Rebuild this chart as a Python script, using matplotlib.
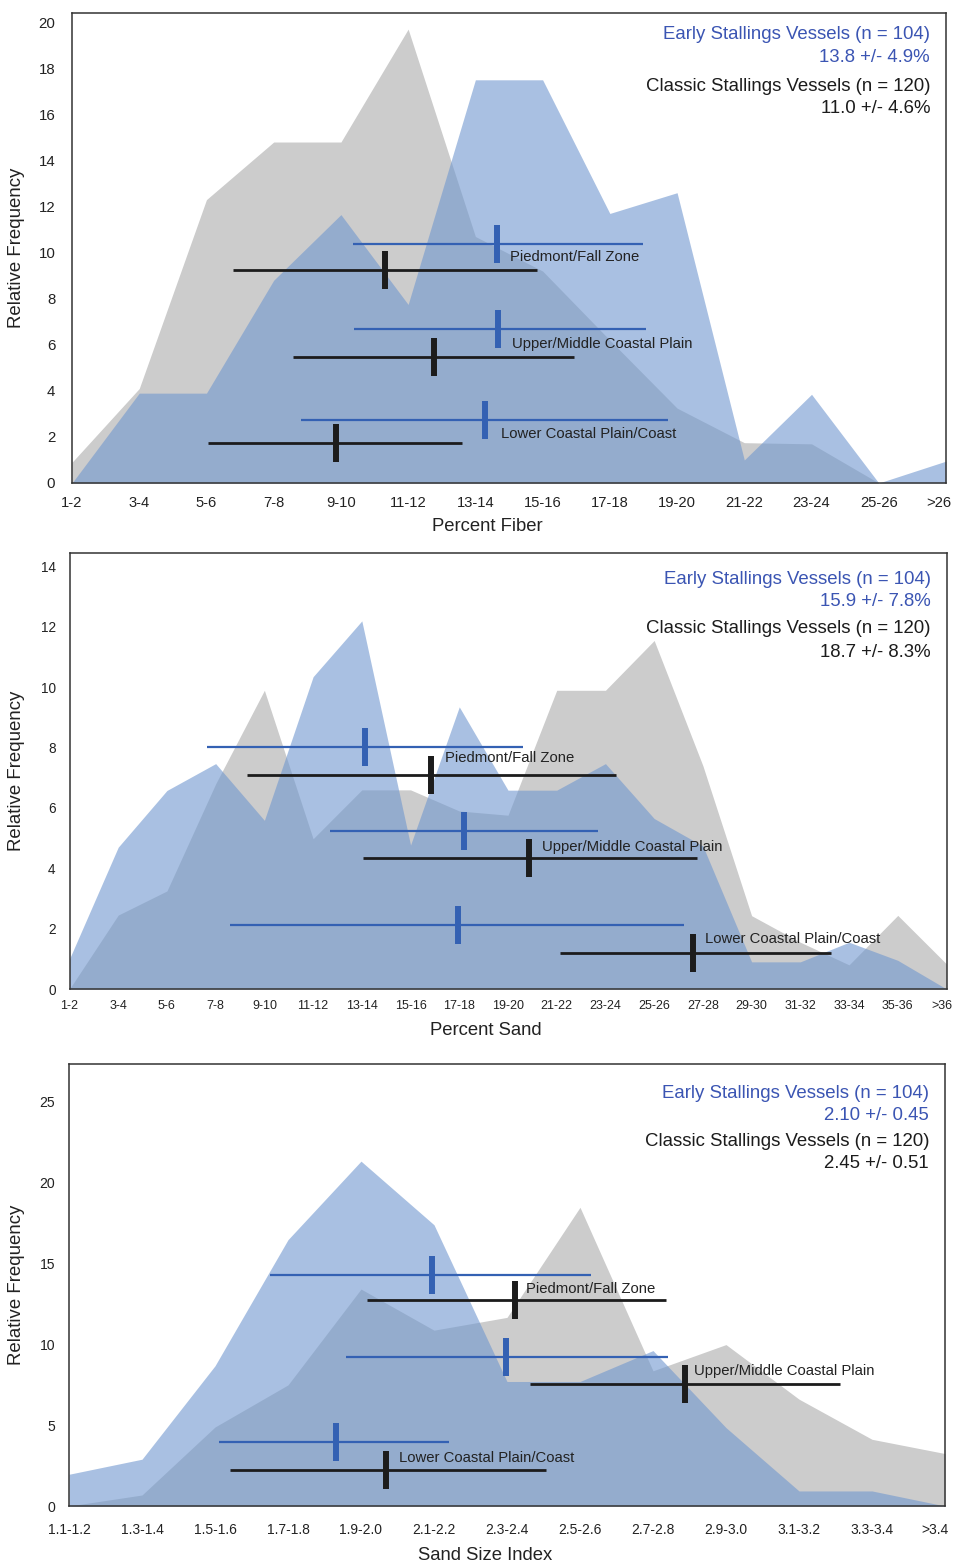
"""
Fiber, sand and sand-size distributions: Early vs Classic Stallings vessels.
"""

import matplotlib
matplotlib.use("Agg")
import matplotlib.pyplot as plt
import matplotlib.transforms as mtransforms
import numpy as np

plt.rcParams["font.family"] = ["Liberation Sans", "DejaVu Sans"]

GREY = "#cccccc"
BLUE_FILL = "#7097cf"
BLUE_ALPHA = 0.6
BLUE_LINE = "#3461b3"
BLUE_TEXT = "#3b55b3"
BLACK = "#1c1c1c"
SPINE = "#333333"

REGIONS = ["Piedmont/Fall Zone", "Upper/Middle Coastal Plain", "Lower Coastal Plain/Coast"]

# ---- Percent fiber ----
fiber_cats = ["1-2", "3-4", "5-6", "7-8", "9-10", "11-12", "13-14", "15-16",
              "17-18", "19-20", "21-22", "23-24", "25-26", ">26"]
fiber_classic = [0.9, 4.1, 12.3, 14.8, 14.8, 19.7, 10.7, 9.2, 6.2, 3.25, 1.75, 1.7, 0.0, 0.0]
fiber_early = [0.0, 3.9, 3.9, 8.8, 11.65, 7.75, 17.5, 17.5, 11.7, 12.6, 1.0, 3.85, 0.0, 0.95]
# (low, mean, high, row height) in category-index units, one row per region
fiber_early_bars = [(4.18, 6.32, 8.50, 10.38), (4.19, 6.34, 8.54, 6.69), (3.40, 6.15, 8.87, 2.73)]
fiber_classic_bars = [(2.40, 4.66, 6.91, 9.23), (3.29, 5.38, 7.46, 5.47), (2.02, 3.93, 5.80, 1.72)]
fiber_label_pos = [(6.52, 9.83), (6.54, 6.02), (6.38, 2.11)]
fiber_stats = ["13.8 +/- 4.9%", "11.0 +/- 4.6%"]

# ---- Percent sand ----
sand_cats = ["1-2", "3-4", "5-6", "7-8", "9-10", "11-12", "13-14", "15-16", "17-18",
             "19-20", "21-22", "23-24", "25-26", "27-28", "29-30", "31-32", "33-34",
             "35-36", ">36"]
sand_classic = [0.0, 2.45, 3.25, 6.8, 9.9, 4.98, 6.6, 6.6, 5.9, 5.76, 9.9, 9.9, 11.55,
                7.4, 2.43, 1.55, 0.8, 2.44, 0.83]
sand_early = [1.0, 4.7, 6.58, 7.47, 5.59, 10.35, 12.2, 4.77, 9.35, 6.59, 6.59, 7.47, 5.65,
              4.74, 0.9, 0.9, 1.55, 0.95, 0.0]
sand_early_bars = [(2.82, 6.07, 9.31, 8.02), (5.35, 8.10, 10.85, 5.22), (3.29, 7.97, 12.61, 2.12)]
sand_classic_bars = [(3.64, 7.42, 11.22, 7.08), (6.02, 9.43, 12.88, 4.34), (10.06, 12.80, 15.62, 1.2)]
sand_label_pos = [(7.71, 7.64), (9.70, 4.70), (13.04, 1.66)]
sand_stats = ["15.9 +/- 7.8%", "18.7 +/- 8.3%"]

# ---- Sand size index ----
ssi_cats = ["1.1-1.2", "1.3-1.4", "1.5-1.6", "1.7-1.8", "1.9-2.0", "2.1-2.2", "2.3-2.4",
            "2.5-2.6", "2.7-2.8", "2.9-3.0", "3.1-3.2", "3.3-3.4", ">3.4"]
ssi_classic = [0.0, 0.68, 4.88, 7.48, 13.4, 10.86, 11.65, 18.45, 8.35, 9.97, 6.6, 4.12, 3.24]
ssi_early = [1.96, 2.89, 8.66, 16.45, 21.3, 17.37, 7.69, 7.69, 9.6, 4.84, 0.93, 0.93, 0.0]
ssi_early_bars = [(2.75, 4.97, 7.15, 14.28), (3.79, 5.99, 8.20, 9.21), (2.06, 3.66, 5.20, 3.98)]
ssi_classic_bars = [(4.08, 6.11, 8.18, 12.74), (6.32, 8.44, 10.56, 7.56), (2.21, 4.34, 6.54, 2.23)]
ssi_label_pos = [(6.26, 13.4), (8.56, 8.35), (4.52, 2.99)]
ssi_stats = ["2.10 +/- 0.45", "2.45 +/- 0.51"]


def draw_bars(ax, bars, color, lw):
    for lo, mid, hi, y in bars:
        ax.plot([lo, hi], [y, y], color=color, lw=lw, solid_capstyle="butt", zorder=3)
        ax.plot([mid], [y], marker="|", ms=28, mew=4.3, color=color, zorder=4)


def draw_panel(ax, cats, classic, early, early_bars, classic_bars, label_pos, stats,
               ymax, yticks, xlabel, xfs, yfs, xpad, ypad, legend_dy, xlabel_y, ylabel_x,
               last_shift):
    x = np.arange(len(cats))
    ax.fill_between(x, 0, classic, color=GREY, lw=0, zorder=1)
    ax.fill_between(x, 0, early, color=BLUE_FILL, alpha=BLUE_ALPHA, lw=0, zorder=2)

    draw_bars(ax, early_bars, BLUE_LINE, 1.6)
    draw_bars(ax, classic_bars, BLACK, 2.0)
    for name, (lx, ly) in zip(REGIONS, label_pos):
        ax.text(lx, ly, name, fontsize=10.7, color="#222222", ha="left", va="center", zorder=5)

    texts = [("Early Stallings Vessels (n = 104)", BLUE_TEXT), (stats[0], BLUE_TEXT),
             ("Classic Stallings Vessels (n = 120)", BLACK), (stats[1], BLACK)]
    for (txt, col), dy in zip(texts, legend_dy):
        ax.annotate(txt, xy=(1, 1), xycoords="axes fraction", xytext=(-11.5, -(dy + 2) * 0.72),
                    textcoords="offset points", ha="right", va="center",
                    fontsize=13.4, color=col, zorder=6)

    ax.set_xlim(0, len(cats) - 1)
    ax.set_ylim(0, ymax)
    ax.set_xticks(x)
    ax.set_xticklabels(cats)
    ax.set_yticks(yticks)
    ax.tick_params(axis="x", length=0, labelsize=xfs, pad=xpad, colors="#222222")
    ax.tick_params(axis="y", length=0, labelsize=yfs, pad=ypad, colors="#222222")
    # pull the last category label inside the figure, as in the original
    last = ax.get_xticklabels()[-1]
    shift = mtransforms.ScaledTranslation(-last_shift / 100, 0, ax.figure.dpi_scale_trans)
    last.set_transform(last.get_transform() + shift)
    for sp in ax.spines.values():
        sp.set_color(SPINE)
        sp.set_linewidth(1.1)
        sp.set_zorder(7)

    ax.set_xlabel(xlabel, fontsize=13.3, color="#222222")
    ax.xaxis.set_label_coords(0.475, xlabel_y)
    ax.set_ylabel("Relative Frequency", fontsize=13.4, color="#222222")
    ax.yaxis.set_label_coords(ylabel_x, 0.5)


def main() -> None:
    fig = plt.figure(figsize=(9.55, 15.66), dpi=100)
    W, H = 955, 1566

    def axes_px(left, top, right, bottom):
        return fig.add_axes([left / W, 1 - bottom / H, (right - left) / W, (bottom - top) / H])

    ax1 = axes_px(72, 13, 946, 483)
    draw_panel(ax1, fiber_cats, fiber_classic, fiber_early, fiber_early_bars,
               fiber_classic_bars, fiber_label_pos, fiber_stats,
               20.4, range(0, 21, 2), "Percent Fiber", 10.6, 10.8, 9.4, 12,
               [20, 43, 72, 94], -0.0745, -0.054, 7)

    ax2 = axes_px(69.5, 553, 946.5, 989)
    draw_panel(ax2, sand_cats, sand_classic, sand_early, sand_early_bars,
               sand_classic_bars, sand_label_pos, sand_stats,
               14.45, range(0, 15, 2), "Percent Sand", 9.0, 9.8, 8, 10,
               [24, 46, 73.5, 97], -0.0755, -0.0505, 5)

    ax3 = axes_px(69, 1064, 945, 1506)
    draw_panel(ax3, ssi_cats, ssi_classic, ssi_early, ssi_early_bars,
               ssi_classic_bars, ssi_label_pos, ssi_stats,
               27.3, range(0, 26, 5), "Sand Size Index", 10.0, 10.1, 12, 10,
               [27.5, 49.5, 75, 97], -0.093, -0.050, 10)

    fig.savefig("out.png", dpi=100)
    plt.close(fig)


if __name__ == "__main__":
    main()
